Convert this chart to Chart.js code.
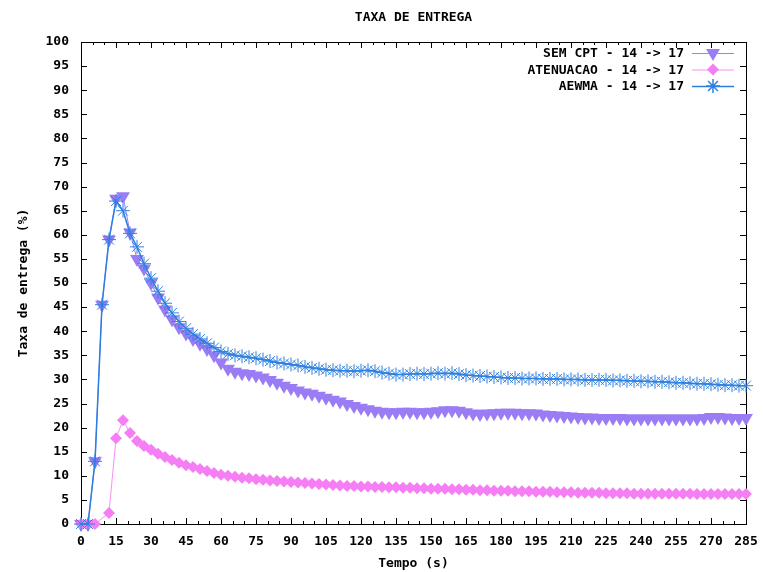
<!DOCTYPE html>
<html>
<head>
<meta charset="utf-8">
<script src="https://cdn.jsdelivr.net/npm/chart.js@4.4.0/dist/chart.umd.min.js"></script>
<style>
  html, body { margin: 0; padding: 0; background: #fff; }
  #wrap { width: 765px; height: 572px; }
</style>
</head>
<body>
<div id="wrap"><canvas id="grafico" width="765" height="572"></canvas></div>
<script>
// tempo (s), uma amostra a cada 3 s
const tempo = [
  0, 3, 6, 9, 12, 15, 18, 21, 24, 27, 30, 33, 36, 39, 42, 45, 48, 51, 54, 57,
  60, 63, 66, 69, 72, 75, 78, 81, 84, 87, 90, 93, 96, 99, 102, 105, 108, 111, 114, 117,
  120, 123, 126, 129, 132, 135, 138, 141, 144, 147, 150, 153, 156, 159, 162, 165, 168, 171, 174, 177,
  180, 183, 186, 189, 192, 195, 198, 201, 204, 207, 210, 213, 216, 219, 222, 225, 228, 231, 234, 237,
  240, 243, 246, 249, 252, 255, 258, 261, 264, 267, 270, 273, 276, 279, 282, 285
];

const semCpt = [
  0, 0, 13, 45.5, 59, 67.5, 68, 60.5, 55, 53, 50, 47, 44.5, 42.5, 40.8, 39.5, 38.4, 37.4, 36.3, 35,
  33.5, 32.2, 31.6, 31.3, 31.1, 30.8, 30.4, 29.9, 29.3, 28.7, 28.2, 27.7, 27.3, 27.0, 26.6, 26.2, 25.8, 25.4, 24.9, 24.5,
  24.1, 23.8, 23.5, 23.3, 23.2, 23.2, 23.3, 23.3, 23.2, 23.2, 23.3, 23.4, 23.6, 23.6, 23.5, 23.2, 22.9, 22.8, 22.9, 23.0,
  23.1, 23.1, 23.1, 23.0, 23.0, 22.9, 22.7, 22.6, 22.5, 22.4, 22.3, 22.2, 22.1, 22.1, 22.0, 22.0, 22.0, 22.0, 21.9, 21.9,
  21.9, 21.9, 21.9, 21.9, 21.9, 21.9, 21.9, 21.9, 21.9, 22.0, 22.2, 22.2, 22.1, 22.0, 22.0, 22.0
];

const atenuacao = [
  0, 0, 0, null, 2.3, 17.8, 21.5, 18.9, 17.2, 16.2, 15.4, 14.6, 13.9, 13.3, 12.7, 12.2, 11.8, 11.4, 11.0, 10.6,
  10.2, 10.0, 9.8, 9.6, 9.5, 9.3, 9.2, 9.0, 8.9, 8.8, 8.7, 8.6, 8.5, 8.4, 8.3, 8.2, 8.1, 8.0, 7.9, 7.9,
  7.8, 7.8, 7.7, 7.7, 7.6, 7.6, 7.5, 7.5, 7.4, 7.4, 7.3, 7.3, 7.3, 7.2, 7.2, 7.1, 7.1, 7.0, 7.0, 6.9,
  6.9, 6.9, 6.8, 6.8, 6.8, 6.7, 6.7, 6.7, 6.6, 6.6, 6.6, 6.5, 6.5, 6.5, 6.5, 6.4, 6.4, 6.4, 6.4, 6.3,
  6.3, 6.3, 6.3, 6.3, 6.3, 6.3, 6.3, 6.3, 6.2, 6.2, 6.2, 6.2, 6.2, 6.2, 6.2, 6.2
];

const aewma = [
  0, 0, 13, 45.5, 59, 67, 65, 60.3, 57.5, 54, 51, 48.3, 45.8, 43.8, 42, 40.6, 39.4, 38.4, 37.5, 36.6,
  35.8, 35.3, 35.0, 34.8, 34.6, 34.4, 34.1, 33.8, 33.5, 33.3, 33.1, 32.9, 32.6, 32.4, 32.2, 32.0, 31.9, 31.8, 31.8, 31.7,
  31.8, 31.9, 31.7, 31.4, 31.2, 31.0, 31.0, 31.1, 31.2, 31.1, 31.2, 31.3, 31.2, 31.3, 31.1, 30.9, 30.8, 30.7, 30.6, 30.5,
  30.4, 30.3, 30.3, 30.2, 30.2, 30.2, 30.1, 30.1, 30.1, 30.0, 30.0, 30.0, 29.9, 29.9, 29.9, 29.9, 29.8, 29.8, 29.7, 29.7,
  29.6, 29.6, 29.5, 29.5, 29.4, 29.3, 29.3, 29.2, 29.1, 29.1, 29.0, 28.9, 28.8, 28.8, 28.7, 28.7
];

const nomes = ['SEM CPT - 14 -> 17', 'ATENUACAO - 14 -> 17', 'AEWMA - 14 -> 17'];

const FONTE = { family: "'DejaVu Sans Mono', monospace", weight: 'bold', size: 13 };
Chart.defaults.font = FONTE;
Chart.defaults.color = '#000';

const pontos = vals => tempo.map((t, i) => ({ x: t, y: vals[i] }));

// moldura estilo gnuplot, com marcas para dentro nos quatro lados
const moldura = {
  id: 'moldura',
  beforeDatasetsDraw(chart) {
    const { ctx, chartArea: a, scales: { x, y } } = chart;
    ctx.save();
    ctx.strokeStyle = '#000';
    ctx.lineWidth = 1;
    ctx.strokeRect(Math.round(a.left) + 0.5, Math.round(a.top) + 0.5,
      Math.round(a.right - a.left), Math.round(a.bottom - a.top));
    ctx.beginPath();
    for (let v = x.min; v <= x.max; v += 5) {
      const px = Math.round(x.getPixelForValue(v)) + 0.5;
      const len = v % 15 === 0 ? 6 : 3;
      ctx.moveTo(px, a.bottom); ctx.lineTo(px, a.bottom - len);
      ctx.moveTo(px, a.top); ctx.lineTo(px, a.top + len);
    }
    for (let v = y.min; v <= y.max; v += 5) {
      const py = Math.round(y.getPixelForValue(v)) + 0.5;
      ctx.moveTo(a.left, py); ctx.lineTo(a.left + 6, py);
      ctx.moveTo(a.right, py); ctx.lineTo(a.right - 6, py);
    }
    ctx.stroke();
    ctx.restore();
  }
};

// legenda no canto superior direito: texto alinhado à direita, amostra à direita
const legenda = {
  id: 'legenda',
  afterDraw(chart) {
    const { ctx } = chart;
    const ordem = [2, 1, 0]; // semCpt, atenuacao, aewma
    ctx.save();
    ctx.font = `${FONTE.weight} ${FONTE.size}px ${FONTE.family}`;
    ctx.textAlign = 'right';
    ctx.textBaseline = 'middle';
    ordem.forEach((idx, i) => {
      const ds = chart.data.datasets.find(d => d.order === idx);
      const yy = 53 + i * 16.5;
      ctx.fillStyle = '#000';
      ctx.fillText(ds.label, 684, yy + 1);
      ctx.strokeStyle = ds.borderColor;
      ctx.lineWidth = ds.borderWidth;
      ctx.beginPath();
      ctx.moveTo(692, yy + 0.5); ctx.lineTo(734, yy + 0.5);
      ctx.stroke();
      ctx.fillStyle = ds.pointBackgroundColor;
      ctx.strokeStyle = ds.pointBorderColor;
      Chart.helpers.drawPoint(ctx, {
        pointStyle: ds.pointStyle, radius: ds.pointRadius,
        rotation: ds.pointRotation || 0, borderWidth: ds.pointBorderWidth
      }, 713, yy);
    });
    ctx.restore();
  }
};

new Chart(document.getElementById('grafico'), {
  type: 'line',
  data: {
    datasets: [
      {
        label: nomes[2], data: pontos(aewma), order: 0,
        borderColor: '#2a7fe0', borderWidth: 1.5,
        pointStyle: 'star', pointRadius: 7, pointRotation: 0,
        pointBorderColor: '#2f80e0', pointBackgroundColor: '#2f80e0', pointBorderWidth: 1,
        clip: false
      },
      {
        label: nomes[1], data: pontos(atenuacao), order: 1, spanGaps: true,
        borderColor: '#f590f3', borderWidth: 1,
        pointStyle: 'rectRot', pointRadius: 6, pointRotation: 0,
        pointBorderColor: '#f67ef4', pointBackgroundColor: '#f67ef4', pointBorderWidth: 0,
        clip: false
      },
      {
        label: nomes[0], data: pontos(semCpt), order: 2,
        borderColor: '#9d80f5', borderWidth: 1,
        pointStyle: 'triangle', pointRadius: 8, pointRotation: 180,
        pointBorderColor: '#9a7cf4', pointBackgroundColor: '#9a7cf4', pointBorderWidth: 0,
        clip: false
      }
    ]
  },
  options: {
    responsive: false,
    animation: false,
    devicePixelRatio: 1,
    layout: { padding: 0 },
    plugins: {
      legend: { display: false },
      tooltip: { enabled: false },
      title: {
        display: true, text: 'TAXA DE ENTREGA', fullSize: false,
        font: FONTE, color: '#000',
        padding: { top: 10, bottom: 16.4 }
      }
    },
    scales: {
      x: {
        type: 'linear', min: 0, max: 285,
        grid: { display: false, drawTicks: false },
        border: { display: false },
        ticks: { stepSize: 15, padding: 10, autoSkip: false, maxRotation: 0 },
        title: { display: true, text: 'Tempo (s)', padding: { top: 0, bottom: 1 } },
        afterFit: s => { s.height = 48; s.paddingLeft = 0; s.paddingRight = 19; }
      },
      y: {
        min: 0, max: 100,
        grid: { display: false, drawTicks: false },
        border: { display: false },
        ticks: { stepSize: 5, padding: 12 },
        title: { display: true, text: 'Taxa de entrega (%)', padding: { top: 16, bottom: 0 } },
        afterFit: s => { s.width = 81; s.paddingTop = 0; s.paddingBottom = 0; }
      }
    }
  },
  plugins: [moldura, legenda]
});
</script>
</body>
</html>
